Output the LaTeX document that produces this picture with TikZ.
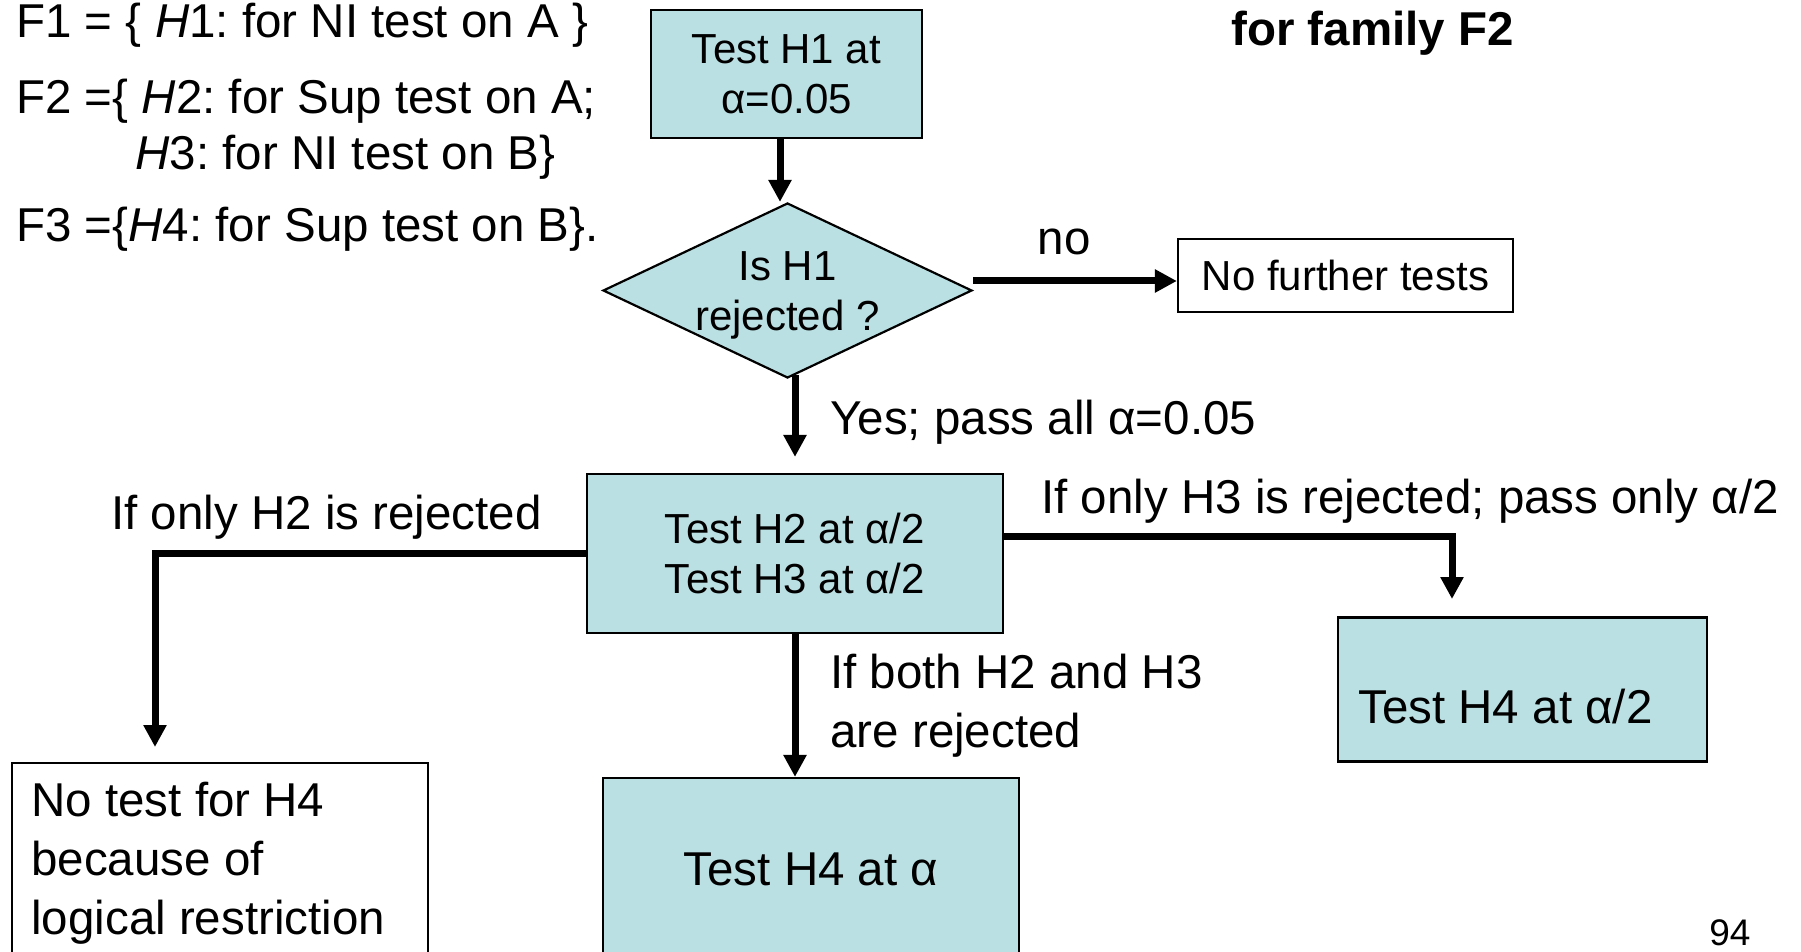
\documentclass[tikz,border=0pt]{standalone}
\usepackage{fontspec}
\setmainfont{Liberation Sans}
\usetikzlibrary{arrows.meta,shapes.geometric}
\definecolor{boxfill}{HTML}{BBE0E3}
\frenchspacing

\begin{document}
\begin{tikzpicture}[x=0.5pt,y=-0.5pt,
  big/.style={font=\fontsize{23.75}{29.5}\selectfont},
  small/.style={font=\fontsize{21}{25}\selectfont},
  txt/.style={inner sep=0pt},
  box/.style={draw, line width=1.1pt, fill=boxfill, inner sep=0pt},
  plainbox/.style={draw, line width=1.1pt, fill=white, inner sep=0pt},
  arr/.style={line width=3.5pt, -{Triangle[length=11pt,width=11pt]}},
  ]
\useasboundingbox (0,0) rectangle (1801,952);

% family definitions
\node[big, txt, anchor=base west] (f1)  at (16,38)  {F1 = \{ \textit{H}1: for NI test on A \}};
\node[big, txt, anchor=base west] (f2)  at (16,114) {F2 =\{ \textit{H}2: for Sup test on A;};
\node[big, txt, anchor=base west] (f2b) at (135,170) {\textit{H}3: for NI test on B\}};
\node[big, txt, anchor=base west] (f3)  at (16,242) {F3 =\{\textit{H}4: for Sup test on B\}.};
\node[txt, anchor=base west, font=\fontsize{23.75}{29.5}\selectfont\bfseries] (ttl) at (1231,46) {for family F2};

% flowchart nodes
\node[box, small, align=center, minimum width=135.5pt, minimum height=64pt] (h1) at (786.5,74) {Test H1 at\\α=0.05};
\node[box, diamond, minimum width=184.5pt, minimum height=87.5pt,
      label={[small, align=center, yshift=-2.5pt]center:Is H1\\rejected ?}] (dia) at (787.5,290.5) {};
\node[plainbox, small, minimum width=167.5pt, minimum height=36.5pt] (nf) at (1345.5,275.5) {No further tests};
\node[box, small, align=center, minimum width=208pt, minimum height=79.5pt] (h23) at (795,553.5) {Test H2 at α/2\\Test H3 at α/2};

\node[plainbox, anchor=north west, minimum width=208pt, minimum height=125pt] (nt) at (11,762) {};
\node[big, txt, align=left, anchor=north west] (ntt) at (31,782) {No test for H4\\because of\\logical restriction};

\node[box, big, minimum width=208pt, minimum height=91pt] (h4a) at (811,869) {Test H4 at α};

\node[box, minimum width=184.5pt, minimum height=72pt] (h4h) at (1522.5,689.5) {};
\node[big, txt, anchor=base west] (h4ht) at (1358,723) {Test H4 at α/2};

\coordinate (rc) at (1452,617);
\coordinate (lc) at (155,762);

% connectors
\draw[arr] ([xshift=-3.25pt]h1.south) -- ([xshift=-3.25pt]h1.south |- dia.north);
\draw[arr] ([yshift=4.75pt]dia.east) -- ([yshift=4.75pt]dia.east -| nf.west);
\draw[arr, shorten >=8pt] ([yshift=2pt]dia.south -| h23.north) -- (h23.north);
\draw[arr, shorten >=9pt] ([yshift=8.75pt]h23.east) -| (rc);
\draw[arr, shorten >=7.5pt] (h23.west) -| (lc);
\draw[arr] (h23.south) -- (h23.south |- h4a.north);

% connector labels
\node[big, txt, anchor=base] (lno) at (1064,255) {no};
\node[big, txt, anchor=base west] (lyes) at (830,435) {Yes; pass all α=0.05};
\node[big, txt, anchor=base west] (lh3) at (1041,514) {If only H3 is rejected; pass only α/2};
\node[big, txt, anchor=base west] (lh2) at (111,530) {If only H2 is rejected};
\node[big, txt, align=left, anchor=north west] (lboth) at (830,654) {If both H2 and H3\\are rejected};

% page number
\node[txt, anchor=base west, font=\fontsize{18.5}{22}\selectfont] (pg) at (1709,945) {94};
\end{tikzpicture}
\end{document}
